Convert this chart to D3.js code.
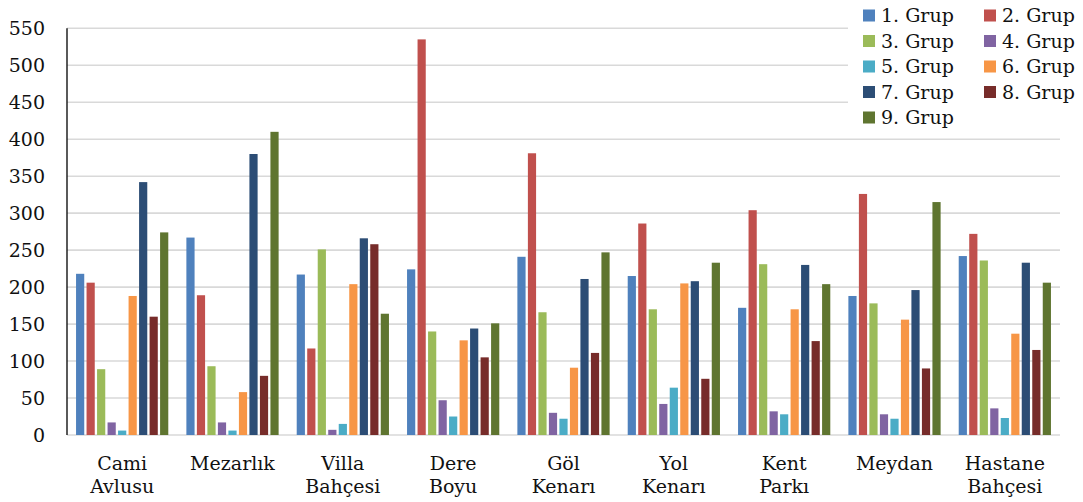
<!DOCTYPE html>
<html>
<head>
<meta charset="utf-8">
<script src="https://cdn.jsdelivr.net/npm/d3@7"></script>
<style>
  html, body { margin: 0; padding: 0; background: #fff; }
  svg { display: block; }
</style>
</head>
<body>
<svg id="chart" width="1083" height="502"></svg>
<script>
// Locations (two-line labels split on "\n")
const categories = ["Cami\nAvlusu", "Mezarlık", "Villa\nBahçesi", "Dere\nBoyu", "Göl\nKenarı",
                    "Yol\nKenarı", "Kent\nParkı", "Meydan", "Hastane\nBahçesi"];
const groups = ["1. Grup", "2. Grup", "3. Grup", "4. Grup", "5. Grup", "6. Grup", "7. Grup", "8. Grup", "9. Grup"];
const colors = ["#4F81BD", "#C0504D", "#9BBB59", "#8064A2", "#4BACC6", "#F79646", "#2C4D75", "#772C2A", "#5F7530"];

// One array per group, values by location
const grup1 = [218, 267, 217, 224, 241, 215, 172, 188, 242];
const grup2 = [206, 189, 117, 535, 381, 286, 304, 326, 272];
const grup3 = [89, 93, 251, 140, 166, 170, 231, 178, 236];
const grup4 = [17, 17, 7, 47, 30, 42, 32, 28, 36];
const grup5 = [6, 6, 15, 25, 22, 64, 28, 22, 23];
const grup6 = [188, 58, 204, 128, 91, 205, 170, 156, 137];
const grup7 = [342, 380, 266, 144, 211, 208, 230, 196, 233];
const grup8 = [160, 80, 258, 105, 111, 76, 127, 90, 115];
const grup9 = [274, 410, 164, 151, 247, 233, 204, 315, 206];
const series = [grup1, grup2, grup3, grup4, grup5, grup6, grup7, grup8, grup9];

const yTicks = [0, 50, 100, 150, 200, 250, 300, 350, 400, 450, 500, 550];

const FONT = "'DejaVu Serif', serif";
const svg = d3.select("#chart");
const plotLeft = 67, plotRight = 1060, plotTop = 28.3, plotBottom = 435;

const y = d3.scaleLinear().domain([0, 550]).range([plotBottom, plotTop]);
const x0 = d3.scaleBand().domain(categories).range([plotLeft, plotRight])
  .paddingInner(0.164).paddingOuter(0.082);
const x1 = d3.scaleBand().domain(d3.range(groups.length)).range([0, x0.bandwidth()])
  .paddingInner(0.22).paddingOuter(0);

// Horizontal gridlines
svg.append("g").selectAll("line").data(yTicks).join("line")
  .attr("x1", plotLeft).attr("x2", plotRight)
  .attr("y1", d => y(d)).attr("y2", d => y(d))
  .attr("stroke", "#D9D9D9").attr("stroke-width", 1.6);

// Y axis labels
const yAxis = d3.axisLeft(y).tickValues(yTicks).tickSize(0).tickPadding(22);
const gy = svg.append("g").attr("transform", `translate(${plotLeft},0)`).call(yAxis);
gy.select(".domain").remove();
gy.selectAll("text").attr("font-size", 19).attr("fill", "#111")
  .style("font-family", FONT);

// Bars
const gCat = svg.append("g").selectAll("g").data(categories).join("g")
  .attr("transform", d => `translate(${x0(d)},0)`);
gCat.selectAll("rect")
  .data((c, ci) => series.map((s, si) => ({ si, v: s[ci] })))
  .join("rect")
  .attr("x", d => x1(d.si))
  .attr("width", x1.bandwidth())
  .attr("y", d => y(d.v))
  .attr("height", d => y(0) - y(d.v))
  .attr("fill", d => colors[d.si]);

// Left axis line
svg.append("line").attr("x1", plotLeft).attr("x2", plotLeft).attr("y1", plotTop).attr("y2", plotBottom)
  .attr("stroke", "#000").attr("stroke-width", 1.3);

// Category labels
const xl = svg.append("g").selectAll("text").data(categories).join("text")
  .attr("x", d => x0(d) + x0.bandwidth() / 2)
  .attr("y", 470)
  .attr("text-anchor", "middle")
  .style("font-family", FONT)
  .attr("font-size", 19).attr("fill", "#111");
xl.selectAll("tspan").data(d => d.split("\n")).join("tspan")
  .attr("x", function () { return d3.select(this.parentNode).attr("x"); })
  .attr("dy", (d, i) => i === 0 ? 0 : 23)
  .text(d => d);

// Legend (opaque box over the gridlines)
const legend = svg.append("g");
legend.append("rect").attr("x", 848).attr("y", 0).attr("width", 235).attr("height", 131).attr("fill", "#fff");
const legCols = [863, 984], legRow0 = 9.5, legStep = 25.5;
const li = legend.selectAll("g").data(groups).join("g")
  .attr("transform", (d, i) => `translate(${legCols[i % 2]},${legRow0 + Math.floor(i / 2) * legStep})`);
li.append("rect").attr("width", 12).attr("height", 12).attr("fill", (d, i) => colors[i]);
li.append("text").attr("x", 18).attr("y", 12.5).attr("font-size", 19).attr("fill", "#111")
  .style("font-family", FONT).text(d => d);
</script>
</body>
</html>
